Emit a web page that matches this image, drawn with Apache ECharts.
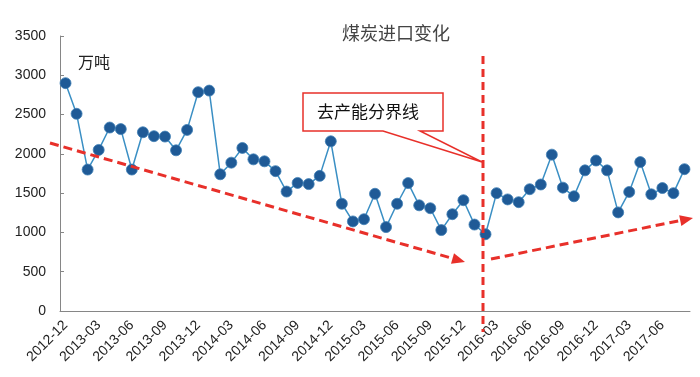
<!DOCTYPE html>
<html>
<head>
<meta charset="utf-8">
<script src="https://cdn.jsdelivr.net/npm/echarts@6/dist/echarts.min.js"></script>
<style>
    html, body { margin: 0; padding: 0; background: #fff; }
    #cn { width: 700px; height: 377px; }
</style>
</head>
<body>
<div id="cn"></div>
<script>
'use strict';

const months = [
    '2012-12',
    '2013-01', '2013-02', '2013-03', '2013-04', '2013-05', '2013-06', '2013-07', '2013-08', '2013-09', '2013-10', '2013-11', '2013-12',
    '2014-01', '2014-02', '2014-03', '2014-04', '2014-05', '2014-06', '2014-07', '2014-08', '2014-09', '2014-10', '2014-11', '2014-12',
    '2015-01', '2015-02', '2015-03', '2015-04', '2015-05', '2015-06', '2015-07', '2015-08', '2015-09', '2015-10', '2015-11', '2015-12',
    '2016-01', '2016-02', '2016-03', '2016-04', '2016-05', '2016-06', '2016-07', '2016-08', '2016-09', '2016-10', '2016-11', '2016-12',
    '2017-01', '2017-02', '2017-03', '2017-04', '2017-05', '2017-06', '2017-07', '2017-08'
];

// 万吨
const coalImport = [
    2900, 2510, 1800, 2050, 2335, 2315, 1800, 2275, 2225, 2220,
    2045, 2305, 2785, 2805, 1740, 1888, 2075, 1930, 1905, 1780,
    1520, 1630, 1615, 1720, 2160, 1365, 1140, 1168, 1492, 1068,
    1365, 1628, 1345, 1308, 1030, 1232, 1410, 1100, 977, 1500,
    1420, 1385, 1550, 1610, 1990, 1570, 1460, 1790, 1915, 1790,
    1255, 1515, 1895, 1485, 1565, 1500, 1805
];

const RED = '#e8302a';
const FONT = 'Liberation Sans';
const CJK = 'Noto Sans CJK SC';

// dashed trend arrow with filled head
const arrow = (x1, y1, x2, y2) => {
    const len = 13, w = 11;
    const d = Math.hypot(x2 - x1, y2 - y1);
    const ux = (x2 - x1) / d, uy = (y2 - y1) / d;
    const bx = x2 - ux * len, by = y2 - uy * len;
    return [{
            type: 'line',
            z: 50,
            shape: { x1: x1, y1: y1, x2: bx, y2: by },
            style: { stroke: RED, lineWidth: 3, lineDash: [9, 5] }
        },
        {
            type: 'polygon',
            z: 50,
            shape: {
                points: [[x2, y2], [bx - uy * w / 2, by + ux * w / 2], [bx + uy * w / 2, by - ux * w / 2]]
            },
            style: { fill: RED }
        }
    ];
};

const chart = echarts.init(document.getElementById('cn'));

let option = {
    animation: false,
    title: {
        text: '煤炭进口变化',
        left: 337,
        top: 19,
        textStyle: {
            fontFamily: CJK,
            fontSize: 18,
            fontWeight: 'normal',
            color: '#444'
        }
    },
    grid: {
        left: 60,
        right: 10,
        top: 36,
        bottom: 66
    },
    xAxis: {
        type: 'category',
        data: months,
        boundaryGap: true,
        axisLine: { lineStyle: { color: '#868686', width: 1 } },
        axisTick: {
            inside: true,
            length: 5,
            interval: 2,
            lineStyle: { color: '#868686' }
        },
        axisLabel: {
            interval: 2,
            rotate: 45,
            margin: 12,
            fontFamily: FONT,
            fontSize: 14,
            color: '#222'
        },
        splitLine: { show: false }
    },
    yAxis: {
        type: 'value',
        min: 0,
        max: 3500,
        interval: 500,
        axisLine: { show: true, lineStyle: { color: '#868686', width: 1 } },
        axisTick: {
            show: true,
            inside: true,
            length: 4,
            lineStyle: { color: '#868686' }
        },
        axisLabel: {
            margin: 14,
            fontFamily: FONT,
            fontSize: 14,
            color: '#222',
            formatter: v => String(v)
        },
        splitLine: { show: false }
    },
    series: [{
        name: '煤炭进口',
        type: 'line',
        data: coalImport,
        symbol: 'circle',
        symbolSize: 11,
        showSymbol: true,
        showAllSymbol: true,
        lineStyle: { color: '#3a8fc4', width: 1.5 },
        itemStyle: { color: '#1f5a96', borderColor: '#3f7fb5', borderWidth: 0.8 },
        z: 3
    }],
    graphic: [
        {
            type: 'text',
            left: 78,
            top: 54,
            style: { text: '万吨', font: '16px "' + CJK + '"', fill: '#222' }
        },
        {
            type: 'line',
            z: 50,
            shape: { x1: 483, y1: 56, x2: 483, y2: 332 },
            style: { stroke: RED, lineWidth: 3, lineDash: [8, 5] }
        },
        {
            type: 'polygon',
            z: 40,
            shape: {
                points: [[303, 93], [443, 93], [443, 131], [420, 131], [482, 162], [383, 131], [303, 131]]
            },
            style: { fill: '#fff', stroke: RED, lineWidth: 1.5 }
        },
        {
            type: 'text',
            z: 41,
            left: 317,
            top: 103,
            style: { text: '去产能分界线', font: '17px "' + CJK + '"', fill: '#111' }
        },
        ...arrow(50, 143, 465, 262),
        ...arrow(491, 259, 693, 218)
    ]
};

chart.setOption(option);
</script>
</body>
</html>
